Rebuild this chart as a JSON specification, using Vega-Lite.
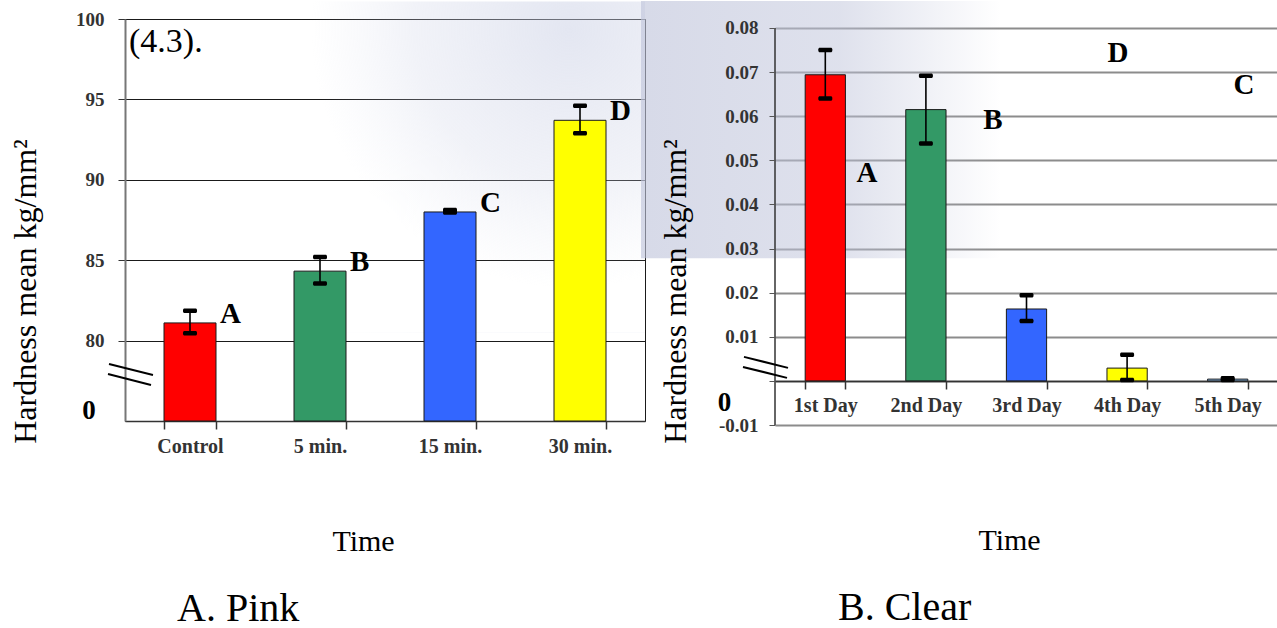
{
  "$schema": "https://vega.github.io/schema/vega-lite/v6.json",
  "background": "#ffffff",
  "padding": {"left": 9, "top": 0, "right": 0, "bottom": 0},
  "bounds": "flush",
  "spacing": 130,
  "config": {
    "font": "Liberation Serif",
    "view": {"stroke": null},
    "axis": {"labelFont": "Liberation Serif", "titleFont": "Liberation Serif"},
    "title": {"font": "Liberation Serif"}
  },
  "resolve": {"scale": {"x": "independent", "y": "independent", "color": "independent"}},
  "datasets": {
    "pink": [
      {"time": "Control", "mean": 81.1, "lo": 80.45, "hi": 81.85, "group": "A"},
      {"time": "5 min.", "mean": 84.32, "lo": 83.55, "hi": 85.2, "group": "B"},
      {"time": "15 min.", "mean": 88.0, "lo": 87.97, "hi": 88.12, "group": "C"},
      {"time": "30 min.", "mean": 93.7, "lo": 92.9, "hi": 94.6, "group": "D"}
    ],
    "clear": [
      {"time": "1st Day", "mean": 0.0694, "lo": 0.064, "hi": 0.075},
      {"time": "2nd Day", "mean": 0.0615, "lo": 0.0538, "hi": 0.0692},
      {"time": "3rd Day", "mean": 0.0163, "lo": 0.0136, "hi": 0.0194},
      {"time": "4th Day", "mean": 0.0029, "lo": 0.0002, "hi": 0.0059},
      {"time": "5th Day", "mean": 0.0004, "lo": 0.0002, "hi": 0.0006}
    ]
  },
  "hconcat": [
    {
      "width": 520,
      "height": 402,
      "view": {"stroke": "#1a1a1a", "strokeWidth": 1},
      "title": {"text": "A. Pink", "orient": "bottom", "anchor": "start", "frame": "group", "dx": 52, "offset": 33, "fontSize": 40, "fontWeight": "normal", "color": "#000000"},
      "resolve": {"axis": {"x": "independent", "y": "independent"}},
      "layer": [
        {
          "data": {"values": [{}]},
          "mark": {
            "type": "rect",
            "fill": {"gradient": "radial", "x1": 0.78, "y1": 0.1, "r1": 0, "x2": 0.78, "y2": 0.1, "r2": 0.75,
              "stops": [
                {"offset": 0, "color": "rgba(200,206,228,0.5)"},
                {"offset": 0.6, "color": "rgba(205,210,230,0.28)"},
                {"offset": 1, "color": "rgba(214,219,236,0)"}
              ]}
          },
          "encoding": {
            "x": {"datum": "5 min.", "type": "nominal", "bandPosition": 0.135, "scale": {"domain": ["Control", "5 min.", "15 min.", "30 min."], "paddingInner": 0.6, "paddingOuter": 0.3}, "axis": null},
            "x2": {"datum": "30 min.", "bandPosition": 1.75},
            "y": {"datum": 80.5, "type": "quantitative", "scale": {"domain": [75, 100], "nice": false, "zero": false}, "axis": null},
            "y2": {"datum": 101.1}
          }
        },
        {
          "data": {"name": "pink"},
          "mark": {"type": "bar", "stroke": "#1a1a1a", "strokeWidth": 1},
          "encoding": {
            "x": {
              "field": "time", "type": "nominal", "sort": null,
              "scale": {"domain": ["Control", "5 min.", "15 min.", "30 min."], "paddingInner": 0.6, "paddingOuter": 0.3},
              "axis": {
                "title": "Time", "titleFontSize": 30, "titleFontWeight": "normal", "titleColor": "#000000",
                "titlePadding": 70, "titleX": 238,
                "labelAngle": 0, "labelFontSize": 20, "labelFontWeight": "bold", "labelColor": "#333333", "labelPadding": 7,
                "tickBand": "extent", "tickSize": 8, "tickColor": "#333333", "tickWidth": 1.5,
                "domainColor": "#333333", "domainWidth": 1.5, "grid": false
              }
            },
            "y": {
              "field": "mean", "type": "quantitative",
              "scale": {"domain": [75, 100], "nice": false, "zero": false},
              "axis": {
                "title": "Hardness mean kg/mm²", "titleFontSize": 32, "titleFontWeight": "normal", "titleColor": "#000000",
                "titlePadding": 33, "titleY": 272,
                "values": [80, 85, 90, 95, 100],
                "labelFontWeight": "bold", "labelFontSize": 19, "labelColor": "#333333", "labelPadding": 14,
                "tickSize": 7, "tickColor": "#333333",
                "domainColor": "#777777", "domainWidth": 2,
                "grid": true, "gridColor": "#1a1a1a", "gridWidth": 1, "gridOpacity": 1
              }
            },
            "y2": {"datum": 75},
            "color": {
              "field": "time", "type": "nominal",
              "scale": {"domain": ["Control", "5 min.", "15 min.", "30 min."], "range": ["#ff0000", "#339966", "#3366ff", "#ffff00"]},
              "legend": null
            }
          }
        },
        {
          "data": {"name": "pink"},
          "mark": {"type": "rule", "color": "#000000", "strokeWidth": 1.6},
          "encoding": {
            "x": {"field": "time", "type": "nominal", "axis": null},
            "y": {"field": "lo", "type": "quantitative", "axis": null},
            "y2": {"field": "hi"}
          }
        },
        {
          "data": {"name": "pink"},
          "mark": {"type": "tick", "color": "#000000", "thickness": 4.5, "size": 14, "cornerRadius": 1.5, "opacity": 1},
          "encoding": {
            "x": {"field": "time", "type": "nominal", "axis": null},
            "y": {"field": "hi", "type": "quantitative", "axis": null}
          }
        },
        {
          "data": {"name": "pink"},
          "mark": {"type": "tick", "color": "#000000", "thickness": 4.5, "size": 14, "cornerRadius": 1.5, "opacity": 1},
          "encoding": {
            "x": {"field": "time", "type": "nominal", "axis": null},
            "y": {"field": "lo", "type": "quantitative", "axis": null}
          }
        },
        {
          "data": {"name": "pink"},
          "mark": {"type": "text", "align": "left", "baseline": "alphabetic", "dx": 30, "fontSize": 29, "fontWeight": "bold", "color": "#000000"},
          "encoding": {
            "x": {"field": "time", "type": "nominal", "axis": null},
            "y": {"field": "mean", "type": "quantitative", "axis": null},
            "text": {"field": "group"}
          }
        },
        {
          "data": {"values": [{}]},
          "mark": {"type": "text", "align": "left", "baseline": "middle", "fontSize": 34, "fontWeight": "normal", "color": "#000000"},
          "encoding": {
            "x": {"datum": "Control", "type": "nominal", "bandPosition": -0.673, "axis": null},
            "y": {"datum": 98.55, "type": "quantitative", "axis": null},
            "text": {"value": "(4.3)."}
          }
        },
        {
          "data": {"values": [{}]},
          "mark": {"type": "text", "align": "center", "baseline": "middle", "fontSize": 27, "fontWeight": "bold", "color": "#000000"},
          "encoding": {
            "x": {"datum": "Control", "type": "nominal", "bandPosition": -1.44, "axis": null},
            "y": {"datum": 75.62, "type": "quantitative", "axis": null},
            "text": {"value": "0"}
          }
        },
        {
          "data": {"values": [{}]},
          "mark": {"type": "rule", "color": "#000000", "strokeWidth": 2},
          "encoding": {
            "x": {"datum": "Control", "type": "nominal", "bandPosition": -1.058, "axis": null},
            "x2": {"datum": "Control", "bandPosition": -0.212},
            "y": {"datum": 78.54, "type": "quantitative", "axis": null},
            "y2": {"datum": 77.86}
          }
        },
        {
          "data": {"values": [{}]},
          "mark": {"type": "rule", "color": "#000000", "strokeWidth": 2},
          "encoding": {
            "x": {"datum": "Control", "type": "nominal", "bandPosition": -1.077, "axis": null},
            "x2": {"datum": "Control", "bandPosition": -0.25},
            "y": {"datum": 77.92, "type": "quantitative", "axis": null},
            "y2": {"datum": 77.24}
          }
        }
      ]
    },
    {
      "width": 503,
      "height": 406,
      "title": {"text": "B. Clear", "orient": "bottom", "anchor": "start", "frame": "group", "dx": 63, "offset": 33, "fontSize": 40, "fontWeight": "normal", "color": "#000000"},
      "resolve": {"axis": {"x": "independent", "y": "independent"}},
      "layer": [
        {
          "data": {"values": [{}]},
          "mark": {
            "type": "rect",
            "fill": {"gradient": "linear", "x1": 0, "x2": 1, "y1": 0, "y2": 0,
              "stops": [
                {"offset": 0, "color": "rgba(190,195,218,0.62)"},
                {"offset": 0.55, "color": "rgba(190,195,218,0.5)"},
                {"offset": 1, "color": "rgba(190,195,218,0)"}
              ]}
          },
          "encoding": {
            "x": {"datum": "1st Day", "type": "nominal", "bandPosition": -4.08, "scale": {"domain": ["1st Day", "2nd Day", "3rd Day", "4th Day", "5th Day"], "paddingInner": 0.6, "paddingOuter": 0.3}, "axis": null},
            "x2": {"datum": "2nd Day", "bandPosition": 2.366},
            "y": {"datum": 0.0278, "type": "quantitative", "scale": {"domain": [-0.01, 0.08204], "nice": false, "zero": false}, "axis": null},
            "y2": {"datum": 0.0861}
          }
        },
        {
          "data": {"name": "clear"},
          "mark": {"type": "bar", "stroke": "#1a1a1a", "strokeWidth": 1},
          "encoding": {
            "x": {
              "field": "time", "type": "nominal", "sort": null,
              "scale": {"domain": ["1st Day", "2nd Day", "3rd Day", "4th Day", "5th Day"], "paddingInner": 0.6, "paddingOuter": 0.3},
              "axis": {
                "title": "Time", "titleFontSize": 30, "titleFontWeight": "normal", "titleColor": "#000000",
                "titlePadding": 110, "titleX": 234, "offset": -44,
                "labelAngle": 0, "labelFontSize": 20, "labelFontWeight": "bold", "labelColor": "#333333", "labelPadding": 6,
                "tickBand": "extent", "tickSize": 8, "tickColor": "#333333", "tickWidth": 1.5,
                "domainColor": "#333333", "domainWidth": 1.5, "grid": false
              }
            },
            "y": {
              "field": "mean", "type": "quantitative",
              "scale": {"domain": [-0.01, 0.08204], "nice": false, "zero": false},
              "axis": {
                "orient": "left", "zindex": 1,
                "title": "Hardness mean kg/mm²", "titleFontSize": 32, "titleFontWeight": "normal", "titleColor": "#000000",
                "titlePadding": 26, "titleY": 272,
                "values": [-0.01, 0, 0.01, 0.02, 0.03, 0.04, 0.05, 0.06, 0.07, 0.08],
                "format": ".2f",
                "labelExpr": "datum.value == 0 ? '' : replace(datum.label, '−', '-')",
                "labelFontWeight": "bold", "labelFontSize": 19, "labelColor": "#333333", "labelPadding": 11,
                "tickSize": 6, "tickColor": "#555555",
                "domain": false,
                "grid": false
              }
            },
            "y2": {"datum": 0},
            "color": {
              "field": "time", "type": "nominal",
              "scale": {"domain": ["1st Day", "2nd Day", "3rd Day", "4th Day", "5th Day"], "range": ["#ff0000", "#339966", "#3366ff", "#ffff00", "#99ccff"]},
              "legend": null
            }
          }
        },
        {
          "data": {"name": "clear"},
          "mark": {"type": "rule", "color": "#000000", "strokeWidth": 1.6},
          "encoding": {
            "x": {"field": "time", "type": "nominal", "axis": null},
            "y": {
              "field": "lo", "type": "quantitative",
              "axis": {
                "orient": "left", "zindex": 0, "title": null,
                "values": [-0.01, 0, 0.01, 0.02, 0.03, 0.04, 0.05, 0.06, 0.07, 0.08],
                "labels": false, "ticks": false, "domain": false,
                "grid": true, "gridColor": "#8c8c8c", "gridWidth": 2, "gridOpacity": 1
              }
            },
            "y2": {"field": "hi"}
          }
        },
        {
          "data": {"name": "clear"},
          "mark": {"type": "tick", "color": "#000000", "thickness": 4.5, "size": 14, "cornerRadius": 1.5, "opacity": 1},
          "encoding": {
            "x": {"field": "time", "type": "nominal", "axis": null},
            "y": {"field": "hi", "type": "quantitative", "axis": null}
          }
        },
        {
          "data": {"name": "clear"},
          "mark": {"type": "tick", "color": "#000000", "thickness": 4.5, "size": 14, "cornerRadius": 1.5, "opacity": 1},
          "encoding": {
            "x": {"field": "time", "type": "nominal", "axis": null},
            "y": {"field": "lo", "type": "quantitative", "axis": null}
          }
        },
        {
          "data": {"values": [{}]},
          "mark": {"type": "text", "align": "center", "baseline": "middle", "fontSize": 29, "fontWeight": "bold", "color": "#000000"},
          "encoding": {
            "x": {"datum": "1st Day", "type": "nominal", "bandPosition": 1.536, "axis": null},
            "y": {"datum": 0.0472, "type": "quantitative", "axis": null},
            "text": {"value": "A"}
          }
        },
        {
          "data": {"values": [{}]},
          "mark": {"type": "text", "align": "center", "baseline": "middle", "fontSize": 29, "fontWeight": "bold", "color": "#000000"},
          "encoding": {
            "x": {"datum": "2nd Day", "type": "nominal", "bandPosition": 2.167, "axis": null},
            "y": {"datum": 0.0592, "type": "quantitative", "axis": null},
            "text": {"value": "B"}
          }
        },
        {
          "data": {"values": [{}]},
          "mark": {"type": "text", "align": "center", "baseline": "middle", "fontSize": 29, "fontWeight": "bold", "color": "#000000"},
          "encoding": {
            "x": {"datum": "4th Day", "type": "nominal", "bandPosition": 0.276, "axis": null},
            "y": {"datum": 0.0743, "type": "quantitative", "axis": null},
            "text": {"value": "D"}
          }
        },
        {
          "data": {"values": [{}]},
          "mark": {"type": "text", "align": "center", "baseline": "middle", "fontSize": 29, "fontWeight": "bold", "color": "#000000"},
          "encoding": {
            "x": {"datum": "5th Day", "type": "nominal", "bandPosition": 0.905, "axis": null},
            "y": {"datum": 0.0671, "type": "quantitative", "axis": null},
            "text": {"value": "C"}
          }
        },
        {
          "data": {"values": [{}]},
          "mark": {"type": "rule", "color": "#333333", "strokeWidth": 1.5},
          "encoding": {
            "x": {"datum": "1st Day", "type": "nominal", "bandPosition": -0.75, "axis": null},
            "y": {"datum": -0.01, "type": "quantitative", "axis": null},
            "y2": {"datum": 0.08}
          }
        },
        {
          "data": {"values": [{}]},
          "mark": {"type": "text", "align": "center", "baseline": "middle", "fontSize": 27, "fontWeight": "bold", "color": "#000000"},
          "encoding": {
            "x": {"datum": "1st Day", "type": "nominal", "bandPosition": -2.005, "axis": null},
            "y": {"datum": -0.00505, "type": "quantitative", "axis": null},
            "text": {"value": "0"}
          }
        },
        {
          "data": {"values": [{}]},
          "mark": {"type": "rule", "color": "#000000", "strokeWidth": 2},
          "encoding": {
            "x": {"datum": "1st Day", "type": "nominal", "bandPosition": -1.521, "axis": null},
            "x2": {"datum": "1st Day", "bandPosition": -0.427},
            "y": {"datum": 0.00544, "type": "quantitative", "axis": null},
            "y2": {"datum": 0.00295}
          }
        },
        {
          "data": {"values": [{}]},
          "mark": {"type": "rule", "color": "#000000", "strokeWidth": 2},
          "encoding": {
            "x": {"datum": "1st Day", "type": "nominal", "bandPosition": -1.546, "axis": null},
            "x2": {"datum": "1st Day", "bandPosition": -0.452},
            "y": {"datum": 0.00317, "type": "quantitative", "axis": null},
            "y2": {"datum": 0.00068}
          }
        }
      ]
    }
  ]
}
